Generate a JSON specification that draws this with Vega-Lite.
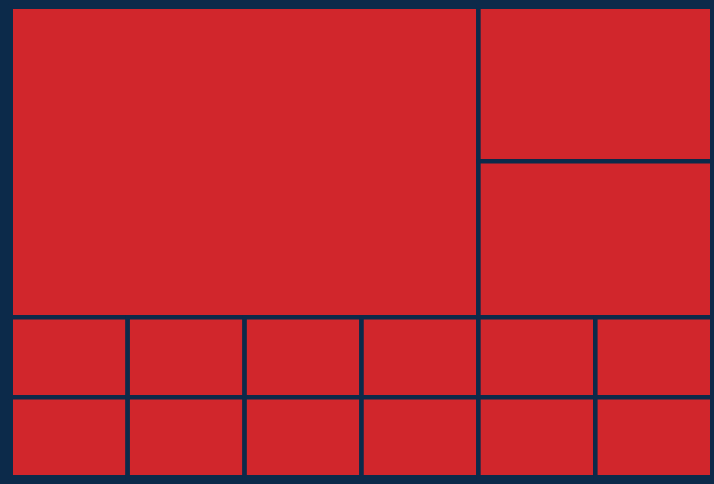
{
  "$schema": "https://vega.github.io/schema/vega-lite/v6.json",
  "width": 701.5,
  "height": 470.5,
  "autosize": {"type": "none"},
  "padding": {"left": 10.75, "top": 6.75, "right": 1.75, "bottom": 6.75},
  "background": "#0c2a4a",
  "config": {"view": {"stroke": null}},
  "data": {
    "values": [
      {"id": "A", "x0": 0, "x1": 4, "y0": 0, "y1": 3.96},
      {"id": "B", "x0": 4, "x1": 6, "y0": 0, "y1": 1.97},
      {"id": "C", "x0": 4, "x1": 6, "y0": 1.97, "y1": 3.96},
      {"id": "D1", "x0": 0, "x1": 1, "y0": 3.96, "y1": 4.98},
      {"id": "D2", "x0": 1, "x1": 2, "y0": 3.96, "y1": 4.98},
      {"id": "D3", "x0": 2, "x1": 3, "y0": 3.96, "y1": 4.98},
      {"id": "D4", "x0": 3, "x1": 4, "y0": 3.96, "y1": 4.98},
      {"id": "D5", "x0": 4, "x1": 5, "y0": 3.96, "y1": 4.98},
      {"id": "D6", "x0": 5, "x1": 6, "y0": 3.96, "y1": 4.98},
      {"id": "E1", "x0": 0, "x1": 1, "y0": 4.98, "y1": 6},
      {"id": "E2", "x0": 1, "x1": 2, "y0": 4.98, "y1": 6},
      {"id": "E3", "x0": 2, "x1": 3, "y0": 4.98, "y1": 6},
      {"id": "E4", "x0": 3, "x1": 4, "y0": 4.98, "y1": 6},
      {"id": "E5", "x0": 4, "x1": 5, "y0": 4.98, "y1": 6},
      {"id": "E6", "x0": 5, "x1": 6, "y0": 4.98, "y1": 6}
    ]
  },
  "mark": {"type": "rect", "fill": "#d1262c", "stroke": "#0c2a4a", "strokeWidth": 4.5, "strokeJoin": "miter"},
  "encoding": {
    "x": {"field": "x0", "type": "quantitative", "scale": {"domain": [0, 6], "nice": false, "zero": false}, "axis": null},
    "x2": {"field": "x1"},
    "y": {"field": "y0", "type": "quantitative", "scale": {"domain": [0, 6], "nice": false, "zero": false, "reverse": true}, "axis": null},
    "y2": {"field": "y1"}
  }
}
